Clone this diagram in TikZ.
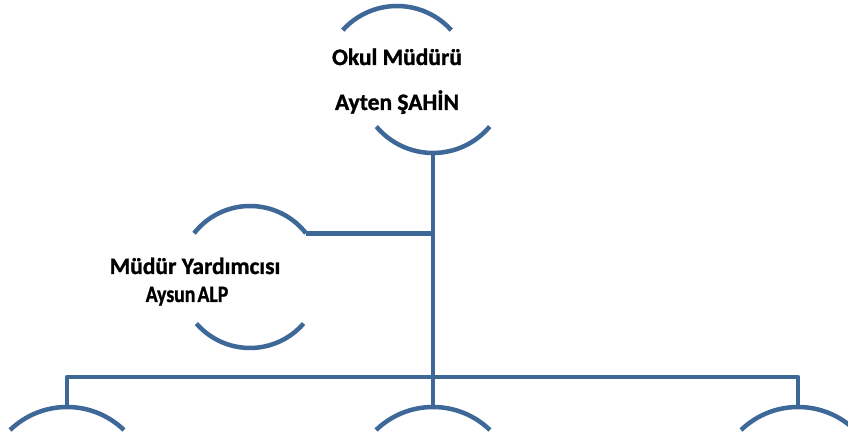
\documentclass[tikz,border=0pt]{standalone}
\usepackage{fontspec}
\setmainfont{Carlito}[BoldFeatures={FakeBold=1.2}]
\usepackage{graphicx}
\definecolor{orgblue}{RGB}{62,104,152}
\begin{document}
\begin{tikzpicture}[x=1pt,y=1pt,
	arcline/.style={orgblue,line width=4.5pt},
	link/.style={orgblue,line width=4.5pt,line join=round},
	lbl/.style={anchor=base,inner sep=0pt,font=\fontsize{23.5}{28}\selectfont\bfseries}]
		\useasboundingbox (0,0) rectangle (848,438);
		% okul mudürü
		\coordinate (mudurTop) at (397,359);
		\coordinate (mudurBot) at (433,359);
		\draw[arcline] (mudurTop) ++(138:73) arc[start angle=138,end angle=42,radius=73];
		\draw[arcline] (mudurBot) ++(-140:74) arc[start angle=-140,end angle=-40,radius=74] coordinate (mudurEnd);
		\coordinate (mudurDown) at (433,285);
		\node[lbl] (mudurUnvan) at (397,373) {Okul Müdürü};
		\node[lbl] (mudurAd) at (397,328) {Ayten ŞAHİN};
		% müdür yardımcısı
		\coordinate (yard) at (250,161);
		\draw[arcline] (yard) ++(142:71) arc[start angle=142,end angle=38,radius=71] coordinate (yardR);
		\draw[arcline] (yard) ++(-139:71) arc[start angle=-139,end angle=-41,radius=71];
		\node[lbl] (yardUnvan) at (195,164) {Müdür Yardımcısı};
		\node[lbl] (yardAd) at (187,136) {\scalebox{0.84}[1]{Aysun\hspace{2.5pt}ALP}};
		% alt birimler
		\foreach \n/\x in {ogrA/67,ogrB/433,ogrC/798}{
			\coordinate (\n) at (\x,31);
			\draw[arcline] (\x,-51) ++(134:82) arc[start angle=134,end angle=46,radius=82];
		}
		\coordinate (bus) at (433,61);
		% baglantilar
		\draw[link] (mudurDown) -- (ogrB);
		\draw[link] (yardR) -- (yardR -| mudurDown);
		\draw[link] (ogrA) |- (bus) -| (ogrC);
\end{tikzpicture}
\end{document}
